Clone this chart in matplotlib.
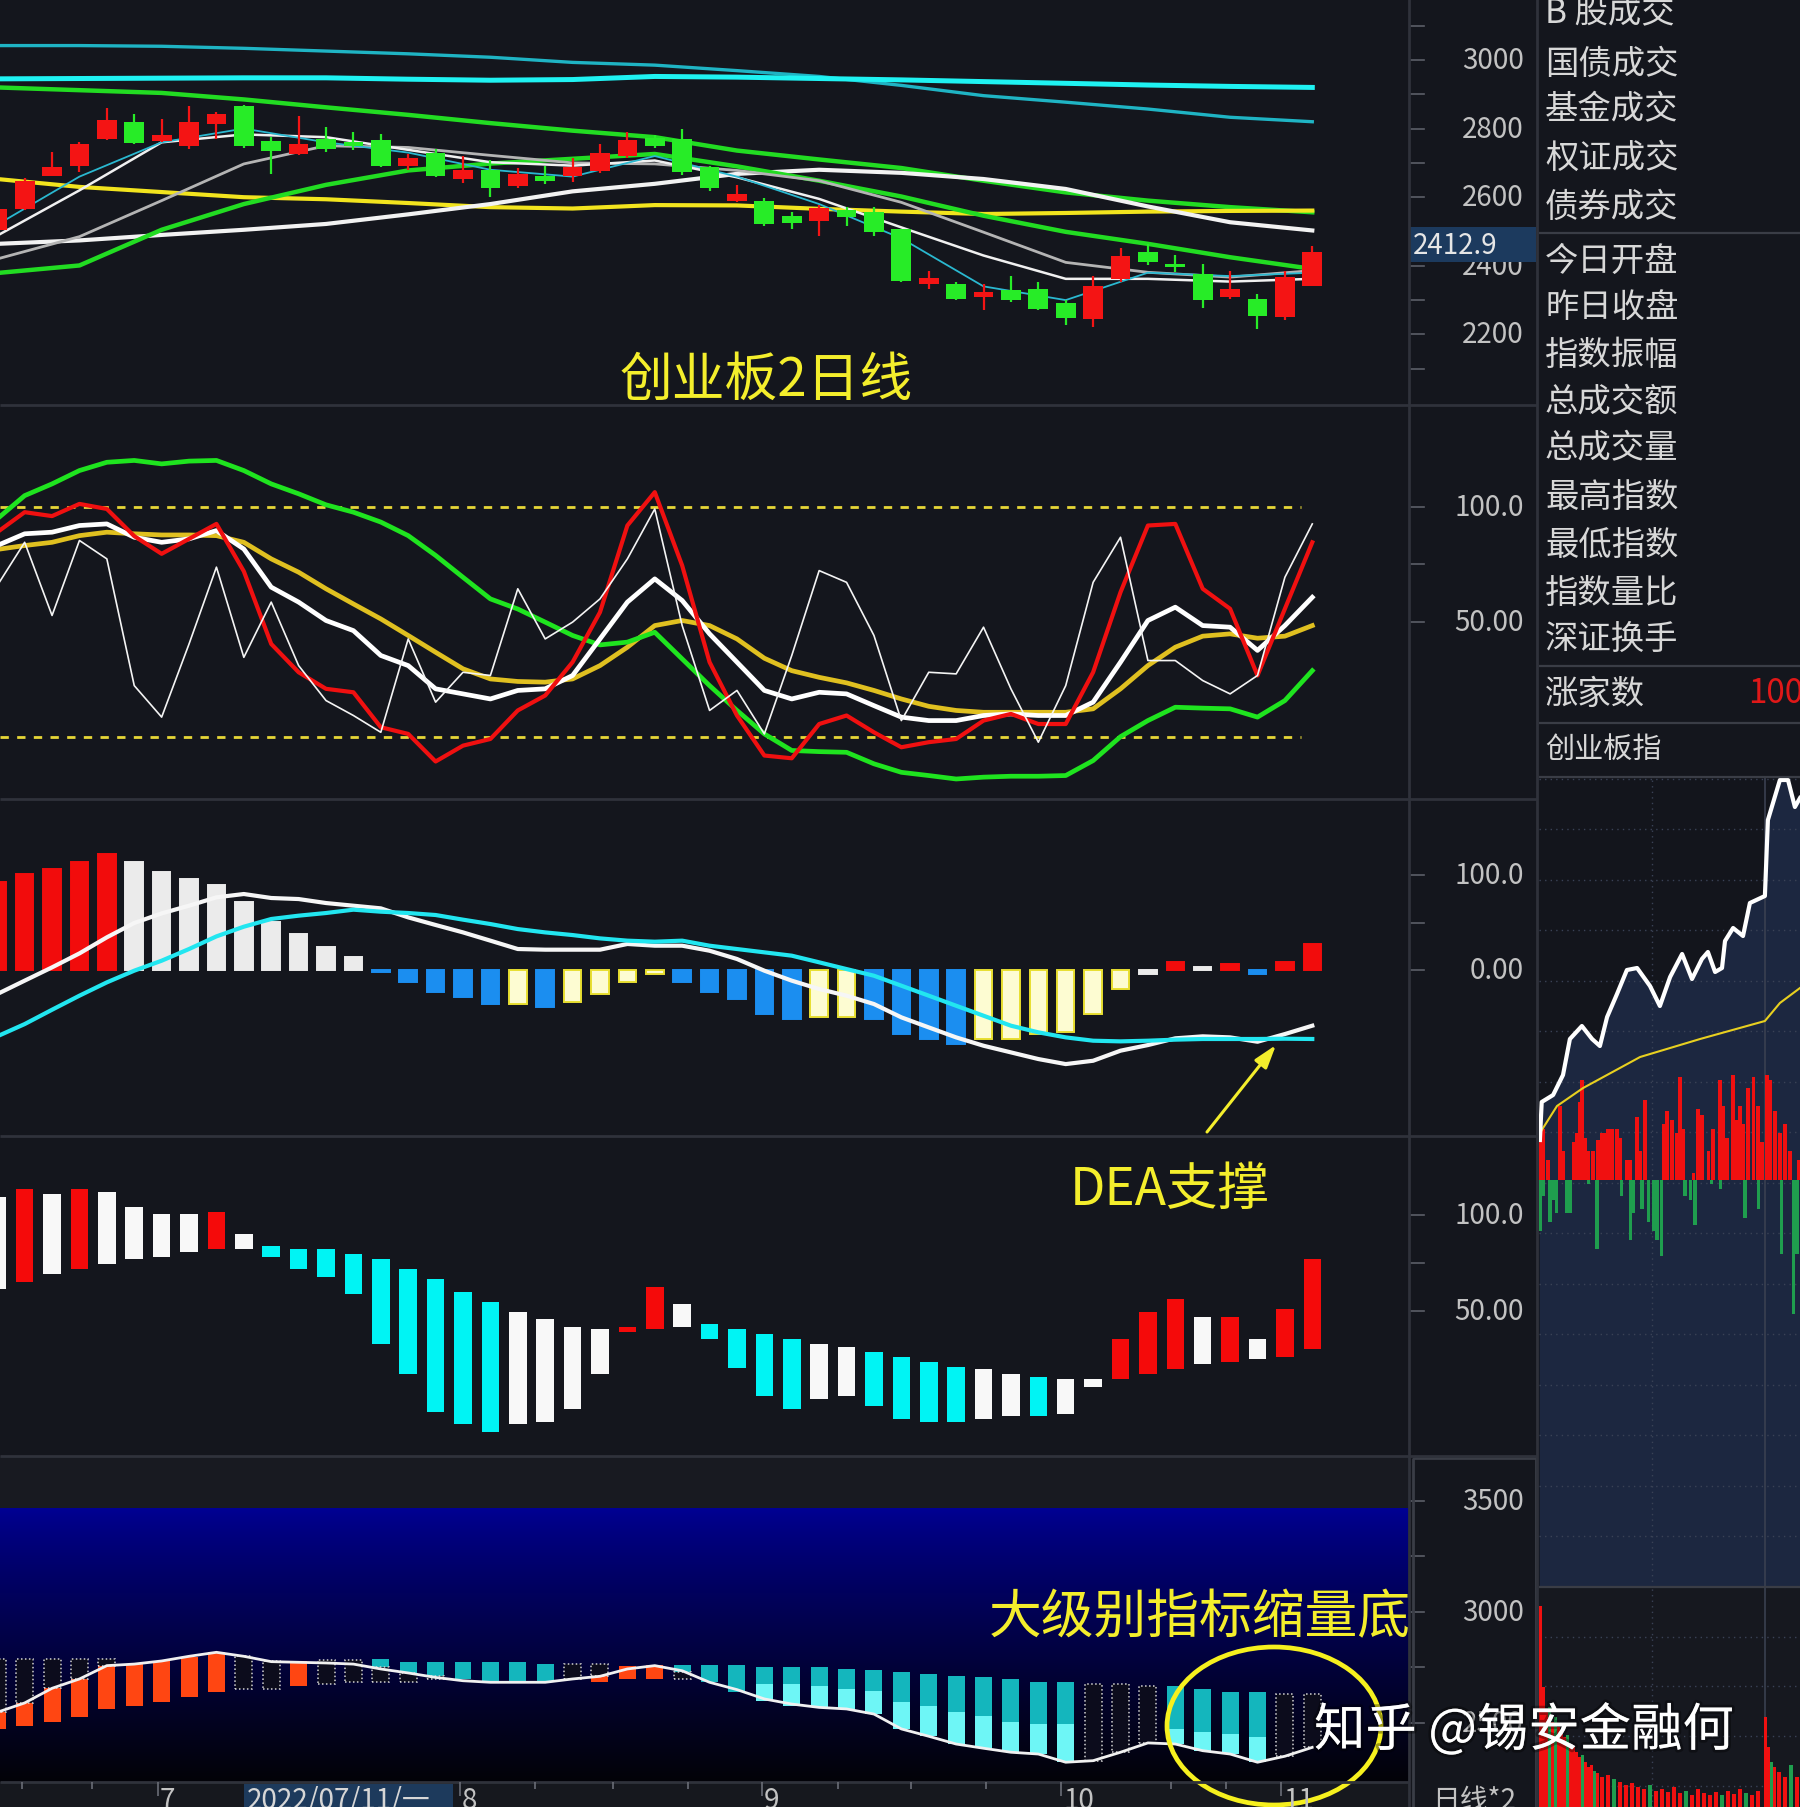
import numpy as np
import matplotlib.pyplot as plt
import matplotlib.transforms as mtransforms
import matplotlib.patheffects as pe
from matplotlib.patches import Rectangle, Ellipse

plt.rcParams['font.family'] = ['Noto Sans CJK SC', 'DejaVu Sans']

# ---------------- data ----------------
# 创业板 2-day candles, 49 bars
c_open = [2503, 2566, 2663, 2692, 2770, 2820, 2765, 2750, 2814, 2865, 2765, 2726, 2770, 2762, 2768, 2692, 2729,
          2653, 2678, 2632, 2661, 2663, 2675, 2721, 2772, 2770, 2687, 2590, 2590, 2544, 2532, 2564, 2558, 2508,
          2347, 2347, 2308, 2328, 2333, 2292, 2245, 2362, 2440, 2405, 2376, 2308, 2304, 2250, 2340]
c_close = [2566, 2648, 2687, 2755, 2826, 2758, 2781, 2820, 2843, 2750, 2736, 2755, 2741, 2750, 2692, 2713, 2663,
           2678, 2626, 2668, 2648, 2687, 2729, 2768, 2750, 2673, 2626, 2610, 2522, 2525, 2568, 2542, 2498, 2357,
           2364, 2304, 2323, 2299, 2274, 2247, 2340, 2430, 2410, 2396, 2299, 2333, 2255, 2367, 2441]
c_high = [2576, 2655, 2733, 2760, 2859, 2843, 2828, 2865, 2849, 2869, 2775, 2838, 2804, 2791, 2784, 2726, 2741,
          2721, 2707, 2684, 2692, 2713, 2755, 2791, 2780, 2799, 2692, 2636, 2597, 2556, 2576, 2571, 2571, 2508,
          2386, 2352, 2347, 2370, 2354, 2299, 2370, 2451, 2464, 2432, 2405, 2386, 2318, 2386, 2457]
c_low = [2498, 2564, 2661, 2673, 2768, 2755, 2760, 2741, 2770, 2743, 2668, 2724, 2733, 2739, 2687, 2678, 2658,
         2642, 2600, 2626, 2639, 2645, 2671, 2713, 2743, 2665, 2619, 2587, 2517, 2508, 2488, 2517, 2488, 2354,
         2333, 2299, 2270, 2294, 2270, 2226, 2221, 2354, 2401, 2381, 2276, 2304, 2216, 2243, 2340]

# moving averages, read every 3rd bar
ma_k = [0, 3, 6, 9, 12, 15, 18, 21, 24, 27, 30, 33, 36, 39, 42, 45, 48]
ma_cyan = [2945, 2946, 2947, 2948, 2948, 2944, 2941, 2943, 2952, 2950, 2946, 2942, 2937, 2932, 2927, 2923, 2920]
ma_teal = [3042, 3042, 3040, 3034, 3026, 3018, 3008, 2993, 2985, 2969, 2952, 2926, 2896, 2877, 2857, 2833, 2820]
ma_green = [2920, 2912, 2904, 2885, 2862, 2840, 2816, 2794, 2775, 2736, 2710, 2685, 2648, 2614, 2590, 2571, 2556]
ma_yellow = [2653, 2630, 2615, 2600, 2594, 2583, 2571, 2567, 2577, 2576, 2566, 2558, 2551, 2554, 2558, 2560, 2561]
ma_white = [2464, 2474, 2490, 2505, 2522, 2550, 2580, 2617, 2639, 2668, 2680, 2671, 2653, 2624, 2573, 2527, 2503]
ma_green2 = [2379, 2401, 2505, 2580, 2636, 2678, 2698, 2712, 2726, 2690, 2648, 2602, 2546, 2499, 2464, 2425, 2391]
ma_thin = [2488, 2620, 2760, 2783, 2775, 2738, 2702, 2692, 2707, 2658, 2595, 2512, 2430, 2362, 2362, 2354, 2362]
ma_grey = [2420, 2485, 2590, 2697, 2750, 2745, 2722, 2700, 2697, 2678, 2648, 2585, 2498, 2410, 2381, 2367, 2386]
ma_short = [2520, 2660, 2760, 2800, 2760, 2730, 2680, 2660, 2720, 2660, 2580, 2480, 2340, 2300, 2380, 2370, 2380]

# oscillator panel
osc_green = [94.8, 104.9, 110.0, 115.8, 119.4, 120.2, 118.7, 119.9, 120.2, 115.8, 110.0, 105.7, 100.9, 97.7, 93.4,
             87.5, 78.9, 69.4, 60.0, 55.6, 49.9, 44.1, 40.0, 41.2, 45.5, 33.9, 22.3, 11.5, 1.3, -5.9, -6.4, -6.7,
             -11.7, -15.4, -16.8, -18.3, -17.5, -17.1, -17.1, -16.8, -10.3, 0.1, 7.1, 12.9, 12.5, 12.2, 8.6, 15.8, 28.8]
osc_red = [89.0, 97.7, 96.0, 101.3, 99.1, 87.3, 79.6, 86.1, 92.6, 72.0, 40.4, 28.1, 20.9, 19.4, 4.2, 1.3, -10.7,
           -3.8, -0.9, 11.5, 18.0, 32.5, 54.2, 91.9, 106.4, 74.5, 32.5, 9.3, -8.1, -9.3, 5.6, 9.3, 2.0, -4.5, -2.3,
           -0.9, 7.1, 10.0, 5.6, 5.6, 28.1, 62.9, 91.9, 92.6, 64.4, 55.7, 26.7, 55.7, 84.6]
osc_white = [83.2, 88.3, 89.0, 91.9, 92.6, 86.8, 84.6, 86.1, 89.7, 81.7, 65.1, 58.6, 50.6, 46.2, 35.4, 31.0, 20.9,
             18.7, 16.5, 20.2, 20.9, 26.7, 42.6, 58.6, 68.7, 59.3, 44.8, 32.5, 20.2, 16.5, 19.4, 18.7, 13.6, 8.6,
             7.1, 7.1, 9.3, 10.0, 9.3, 9.3, 15.1, 32.5, 50.6, 56.4, 48.4, 47.7, 37.6, 48.4, 60.7]
osc_gold = [81.5, 83.2, 84.6, 87.5, 89.0, 88.3, 87.8, 87.8, 87.5, 84.6, 77.4, 71.6, 64.4, 57.8, 51.3, 44.1, 36.8,
            29.6, 25.2, 24.1, 23.8, 25.2, 31.0, 39.0, 48.4, 50.6, 48.4, 42.6, 34.2, 28.8, 25.9, 23.5, 20.2, 16.5,
            13.3, 11.5, 10.7, 10.7, 10.7, 10.7, 12.2, 20.9, 31.0, 39.0, 43.8, 44.8, 42.9, 43.8, 48.4]
osc_thin = [65.8, 84.6, 52.8, 85.4, 77.4, 22.3, 8.6, 40.4, 73.8, 34.6, 58.6, 31.0, 15.8, 9.3, 2.0, 42.6, 15.1, 28.1,
            26.7, 64.4, 42.6, 49.9, 60.0, 77.4, 99.1, 48.4, 11.5, 20.2, 1.3, 35.4, 72.3, 67.2, 44.1, 7.1, 28.1,
            27.4, 47.7, 20.9, -2.3, 22.3, 67.2, 86.8, 33.2, 33.2, 24.5, 18.7, 26.7, 69.4, 92.6]

# MACD panel
macd_hist = [92.3, 101.0, 106.3, 114.0, 122.1, 114.0, 103.5, 95.8, 89.8, 71.9, 50.9, 37.9, 24.5, 14.0, -1.8, -12.3,
             -22.8, -28.1, -35.8, -35.8, -38.6, -33.3, -25.3, -12.3, -4.2, -12.3, -22.8, -30.5, -46.3, -51.6, -49.1,
             -49.1, -51.6, -67.4, -72.6, -77.9, -72.6, -72.6, -67.4, -64.9, -46.3, -20.0, -4.2, 8.8, 3.5, 6.3, -4.2,
             8.8, 27.4]
macd_color = 'rrrrr' + 'wwwwwwwww' + 'bbbbb' + 'y' + 'b' + 'yyyy' + 'bbbbb' + 'yy' + 'bbbb' + 'yyyyyy' + 'wrwrbrr'
macd_dif = [-25.3, -11.2, 2.8, 17.5, 34.4, 49.5, 59.6, 67.7, 76.5, 80.0, 75.8, 74.7, 70.5, 67.7, 64.9, 55.4, 47.4,
            39.6, 30.9, 22.1, 21.4, 21.4, 21.4, 27.4, 25.6, 25.6, 20.3, 11.6, -0.7, -11.2, -20.0, -27.0, -35.8,
            -49.8, -60.4, -70.9, -79.7, -86.7, -93.7, -99.0, -95.5, -84.9, -79.0, -71.9, -69.8, -70.9, -75.5,
            -67.4, -58.6]
macd_dea = [-69.8, -56.9, -41.8, -27.0, -13.0, -0.7, 9.8, 22.1, 35.4, 45.6, 53.7, 57.2, 60.0, 63.5, 61.4, 60.0,
            57.9, 53.0, 48.4, 43.1, 39.6, 36.8, 33.3, 30.9, 29.8, 30.9, 25.6, 22.1, 18.6, 15.1, 8.1, 1.0, -6.0,
            -16.5, -27.0, -37.6, -48.1, -58.6, -65.6, -70.9, -74.4, -75.1, -74.4, -73.3, -72.6, -72.6, -72.6,
            -72.3, -72.6]

# floating bar panel
h4_top = [109.5, 113.9, 111.3, 113.9, 112.5, 104.6, 100.8, 100.8, 102.0, 90.3, 83.9, 82.5, 82.5, 79.9, 77.2, 72.0,
          66.8, 60.1, 54.9, 49.7, 45.8, 41.8, 40.6, 41.8, 62.7, 53.7, 43.2, 40.6, 38.0, 35.4, 32.7, 31.4, 28.7,
          26.1, 23.5, 20.9, 19.7, 17.0, 15.6, 14.4, 14.4, 35.4, 49.7, 56.3, 47.0, 47.0, 35.4, 51.1, 77.2]
h4_bot = [61.5, 65.4, 69.4, 72.0, 74.6, 77.2, 78.5, 81.1, 82.5, 82.5, 78.5, 72.0, 68.0, 58.9, 32.7, 17.0, -2.7,
          -9.1, -13.2, -9.1, -7.9, -1.3, 17.0, 39.2, 40.6, 41.8, 35.4, 20.0, 5.3, -1.3, 3.9, 5.3, 0.1, -6.5, -7.9,
          -7.9, -6.5, -5.1, -5.1, -3.9, 10.4, 14.4, 17.0, 19.7, 22.3, 23.5, 24.9, 26.1, 30.1]
h4_color = 'wrwrwwwwrw' + 'ccccccccc' + 'wwww' + 'rr' + 'w' + 'cccc' + 'ww' + 'cccc' + 'ww' + 'c' + 'ww' + 'rrrwrwrr'

# bottom volume-style indicator
p5_top = [2787, 2787, 2787, 2787, 2787, 2764, 2780, 2794, 2817, 2802, 2780, 2780, 2784, 2784, 2787, 2772, 2772,
          2772, 2772, 2772, 2764, 2764, 2764, 2757, 2760, 2760, 2760, 2760, 2749, 2749, 2749, 2742, 2739, 2730,
          2719, 2712, 2704, 2697, 2685, 2685, 2674, 2674, 2664, 2664, 2652, 2640, 2640, 2629, 2629]
p5_mid = [2547, 2589, 2655, 2697, 2757, 2574, 2592, 2614, 2637, 2652, 2652, 2664, 2674, 2685, 2749, 2724, 2712,
          2697, 2682, 2682, 2682, 2697, 2712, 2697, 2697, 2730, 2682, 2637, 2674, 2674, 2667, 2652, 2644, 2592,
          2577, 2547, 2532, 2502, 2494, 2494, 2329, 2367, 2409, 2472, 2457, 2449, 2434, 2349, 2389]
p5_bot = [2472, 2484, 2505, 2527, 2562, 2574, 2592, 2614, 2637, 2652, 2652, 2664, 2674, 2685, 2685, 2682, 2697,
          2697, 2682, 2682, 2682, 2697, 2682, 2697, 2697, 2697, 2682, 2637, 2599, 2577, 2569, 2562, 2539, 2472,
          2439, 2404, 2385, 2367, 2359, 2322, 2329, 2367, 2409, 2404, 2374, 2359, 2322, 2349, 2389]
p5_up = 'ddddd' + 'oooo' + 'dd' + 'o' + 'dd' + 'tttttt' + 't' + 'dd' + 'oo' + 'ttt' + 't' * 12 + 'ddd' + 'tttt' + 'dd'
p5_lo = 'ooooo' + '-' * 9 + 'ddd' + '-----' + 'o' + '--' + 'd' + '--' + 'c' * 12 + '---' + 'cccc' + '--'
p5_line = [2547, 2589, 2655, 2697, 2757, 2764, 2778, 2799, 2817, 2799, 2775, 2772, 2769, 2764, 2742, 2724, 2704,
           2689, 2682, 2682, 2682, 2697, 2709, 2742, 2757, 2734, 2682, 2649, 2607, 2584, 2569, 2562, 2539, 2472,
           2439, 2404, 2385, 2367, 2359, 2322, 2329, 2367, 2409, 2404, 2374, 2359, 2322, 2349, 2389]

# sidebar intraday mini chart (minutes, height above volume baseline)
mini_t = [0.3, 0.9, 4.7, 8.0, 10.3, 14.3, 17.7, 20.3, 22.7, 26.0, 29.3, 32.7, 37.0, 40.3, 43.7, 47.7, 51.0, 54.3,
          56.3, 58.7, 61.0, 62.0, 64.7, 68.0, 70.3, 75.3, 76.3, 80.3, 83.0, 85.3, 87.0]
mini_px = [40, 78, 85, 105, 141, 154, 141, 134, 163, 186, 210, 212, 194, 174, 203, 226, 201, 221, 228, 208, 212,
           239, 252, 244, 277, 284, 360, 400, 400, 373, 382]
mini_avg_t = [0.3, 6.0, 14.7, 33.7, 53.7, 75.3, 80.3, 87.0]
mini_avg = [47, 74, 92, 123, 141, 159, 177, 192]
mini_red_t = [0.4, 1.5, 3.1, 7.0, 8.1, 11.5, 12.6, 13.7, 14.3, 15.4, 16.5, 18.1, 19.8, 20.9, 22.0, 23.1, 24.3,
              25.9, 27.0, 29.3, 30.4, 32.6, 33.7, 35.4, 41.5, 42.6, 44.3, 45.9, 47.0, 48.1, 51.5, 53.1, 54.3, 56.5,
              58.1, 60.4, 61.5, 62.6, 64.8, 65.9, 67.0, 68.1, 69.8, 71.5, 73.1, 74.3, 75.9, 77.0, 78.7, 80.4, 82.0,
              83.7, 86.5]
mini_red_h = [58, 51, 20, 74, 29, 38, 47, 78, 100, 42, 29, 29, 40, 47, 47, 51, 51, 51, 42, 20, 20, 63, 29, 80, 56,
              69, 60, 47, 103, 51, 7, 71, 65, 29, 51, 100, 74, 42, 105, 60, 74, 56, 92, 103, 74, 38, 105, 100, 69,
              47, 56, 29, 20]
mini_grn_t = [0.4, 1.5, 3.7, 4.8, 5.9, 9.3, 10.4, 16.5, 19.3, 27.6, 30.4, 31.5, 34.3, 36.5, 38.1, 39.3, 40.9,
              48.7, 50.4, 52.0, 57.6, 60.4, 68.7, 73.1, 80.9, 84.8, 86.0]
mini_grn_h = [51, 16, 42, 20, 33, 33, 33, 4, 69, 16, 60, 33, 29, 42, 51, 60, 76, 16, 20, 45, 4, 9, 38, 29, 74,
              134, 74]
low_t = [0.5, 1.5, 2.5, 3.5, 4.5, 5.5, 6.5, 7.5, 8.5, 9.5, 10.5, 11.5, 12.5, 13.5, 14.5, 15.5, 16.5, 17.5, 18.5,
         19.5, 21, 23, 25, 27, 29, 31, 33, 35, 37, 39, 41, 43, 45, 47, 49, 51, 53, 55, 57, 59, 61, 63, 65, 67, 69,
         71, 73, 75.5, 76.5, 77.5, 78.5, 80, 82, 84, 86]
low_h = [201, 120, 95, 100, 85, 90, 80, 75, 70, 72, 62, 60, 55, 50, 52, 45, 40, 42, 36, 34, 30, 32, 28, 25, 22,
         24, 20, 18, 22, 16, 18, 15, 20, 14, 16, 12, 18, 14, 12, 15, 12, 16, 13, 18, 14, 12, 16, 90, 60, 45, 40,
         35, 30, 42, 30]
low_green_idx = [3, 5, 9, 14, 18, 22, 28, 34, 40, 44, 49, 53]

# axis / sidebar text
p1_labels = [(3200, '3200'), (3000, '3000'), (2800, '2800'), (2600, '2600'), (2400, '2400'), (2200, '2200')]
p2_labels = [(100, '100.0'), (50, '50.00')]
p3_labels = [(100, '100.0'), (0, '0.00')]
p4_labels = [(100, '100.0'), (50, '50.00')]
p5_labels = [(3500, '3500'), (3000, '3000'), (2500, '2500')]
side_labels = ['B 股成交', '国债成交', '基金成交', '权证成交', '债券成交', '今日开盘', '昨日收盘', '指数振幅',
               '总成交额', '总成交量', '最高指数', '最低指数', '指数量比', '深证换手', '涨家数', '创业板指']
month_labels = ['7', '8', '9', '10', '11']

# ---------------- drawing ----------------
W, H = 1800, 1808
BG = '#14161d'
GRID = '#2f323b'
LABEL = '#c2c2c2'
YEL = '#f4ee2c'
RED = '#f41414'
GRN = '#27ec27'
XL = (0.10, 51.53)

days = np.arange(len(c_open))
c_open, c_close = np.array(c_open), np.array(c_close)

fig = plt.figure(figsize=(W / 100, H / 100), dpi=100, facecolor=BG)


def add_ax(x0, y0, x1, y1, fc=BG):
    ax = fig.add_axes([x0 / W, 1 - y1 / H, (x1 - x0) / W, (y1 - y0) / H], facecolor=fc)
    ax.set_xticks([])
    ax.set_yticks([])
    for s in ax.spines.values():
        s.set_visible(False)
    return ax


def panel(y0, y1, ylim, fc=BG):
    ax = add_ax(0, y0, 1409, y1, fc)
    ax.set_xlim(*XL)
    ax.set_ylim(*ylim)
    return ax


def yaxis(ax, labels, ticks):
    tr = mtransforms.blended_transform_factory(ax.transAxes, ax.transData)
    for v, s in labels:
        ax.text(1524 / 1409, v, s, transform=tr, ha='right', va='center', color=LABEL,
                fontsize=20, clip_on=False, zorder=1)
    for v in ticks:
        ax.plot([1410 / 1409, 1424 / 1409], [v, v], transform=tr, color='#5c5f68', lw=1.2, clip_on=False)


# panel 1: candles + MAs
ax1 = panel(0, 406, (1994.2, 3177.8))
ax1.plot(ma_k, ma_teal, color='#1fb4c4', lw=2.4, zorder=2)
ax1.plot(ma_k, ma_cyan, color='#1ff2f2', lw=3.6, zorder=2)
ax1.plot(ma_k, ma_green, color='#22dc22', lw=3.2, zorder=2)
ax1.plot(ma_k, ma_yellow, color='#f2e41e', lw=3.0, zorder=2)
ax1.plot(ma_k, ma_white, color='#f2f2f2', lw=3.0, zorder=2)
ax1.plot(ma_k, ma_green2, color='#22dc22', lw=3.2, zorder=2)
ax1.plot(ma_k, ma_grey, color='#b4b4b4', lw=2.0, zorder=3)
ax1.plot(ma_k, ma_thin, color='#f0f0f0', lw=1.8, zorder=3)
ax1.plot(ma_k, ma_short, color='#2ab8d0', lw=1.3, zorder=3)
ccol = np.where(c_close >= c_open, RED, GRN)
ax1.vlines(days, c_low, c_high, colors=ccol, lw=1.6, zorder=4)
body_lo = np.minimum(c_open, c_close)
body_h = np.maximum(np.abs(c_close - c_open), 3)
ax1.bar(days, body_h, bottom=body_lo, width=0.72, color=ccol, zorder=5)
yaxis(ax1, p1_labels, range(2100, 3300, 100))

# panel 2: oscillator
ax2 = panel(406, 800, (-27.0, 144.3))
ax2.hlines([100, 0], XL[0], 47.6, colors='#e6d637', linestyles=(0, (3, 3)), lw=2, zorder=1)
ax2.plot(days, osc_gold, color='#e0c020', lw=3.4, zorder=2)
ax2.plot(days, osc_green, color='#1fe41f', lw=3.4, zorder=3)
ax2.plot(days, osc_white, color='#ffffff', lw=3.4, zorder=4)
ax2.plot(days, osc_red, color='#f01010', lw=3.0, zorder=5)
ax2.plot(days, osc_thin, color='#f4f4f4', lw=1.2, zorder=6)
yaxis(ax2, p2_labels, [100, 75, 50])

# panel 3: MACD
ax3 = panel(800, 1137, (-174.7, 180.0))
mfill = {'r': '#f20c0c', 'w': '#ebebeb', 'b': '#1b8ef0', 'y': '#fdfcd2'}
medge = {'r': '#f20c0c', 'w': '#ebebeb', 'b': '#1b8ef0', 'y': '#e8df30'}
ax3.bar(days, macd_hist, width=0.64, color=[mfill[c] for c in macd_color],
        edgecolor=[medge[c] for c in macd_color], lw=1.4, zorder=2)
ax3.plot(days, macd_dif, color='#f6f6f6', lw=3.0, zorder=3)
ax3.plot(days, macd_dea, color='#22e6f0', lw=3.0, zorder=4)
yaxis(ax3, p3_labels, [100, 50, 0])

# panel 4: floating bars
ax4 = panel(1137, 1457, (-25.9, 141.6))
hcol = {'r': '#f50a0a', 'w': '#f8f8f8', 'c': '#00f4f4'}
ax4.bar(days, np.array(h4_top) - np.array(h4_bot), bottom=h4_bot, width=0.64,
        color=[hcol[c] for c in h4_color], zorder=2)
yaxis(ax4, p4_labels, [100, 75, 50])

# panel 5: gradient background + stacked bars
ax5 = panel(1457, 1783, (2233, 3701), fc='#181a21')
t = np.linspace(0, 1, 256) ** 0.8
top_c, bot_c = np.array([0.0, 0.0, 0.58]), np.array([0.01, 0.01, 0.03])
grad = top_c[None, None, :] * (1 - t)[:, None, None] + bot_c[None, None, :] * t[:, None, None]
ax5.imshow(grad, extent=(XL[0], XL[1], 2233, 3462.6), aspect='auto', origin='upper', zorder=0)
ax5.set_xlim(*XL)
ax5.set_ylim(2233, 3701)
seg_style = {
    'o': dict(color='#ff4612'),
    't': dict(color='#14b6bd'),
    'c': dict(color='#6ef6f6'),
    'd': dict(color='#0c0c1c', edgecolor='#d2d2d2', linewidth=1.1, linestyle=(0, (1, 1.6))),
}
p5_top, p5_mid, p5_bot = np.array(p5_top), np.array(p5_mid), np.array(p5_bot)
for st in 'otcd':
    m = np.array([c == st for c in p5_up])
    if m.any():
        ax5.bar(days[m], (p5_top - p5_mid)[m], bottom=p5_mid[m], width=0.62, zorder=2, **seg_style[st])
    m = np.array([c == st for c in p5_lo])
    if m.any():
        ax5.bar(days[m], (p5_mid - p5_bot)[m], bottom=p5_bot[m], width=0.62, zorder=2, **seg_style[st])
ax5.plot(days, p5_line, color='#f0f0f0', lw=2.0, zorder=3)
yaxis(ax5, p5_labels, [3500, 3250, 3000, 2750, 2500])

# sidebar mini chart
axm = add_ax(1539, 778, 1800, 1588, fc='#13151c')
axm.set_xlim(0, 87)
axm.set_ylim(-407, 403)
axm.fill_between(mini_t, mini_px, -407, color='#1c2740', zorder=0)
for gy in np.arange(-356, 403, 50.5):
    axm.axhline(gy, color='#3a4256', lw=1, linestyle=(0, (1, 3)), zorder=1)
axm.axvline(37.7, color='#3a4256', lw=1, linestyle=(0, (1, 3)), zorder=1)
axm.axvline(75.3, color='#3a4050', lw=1.2, zorder=1)
axm.bar(mini_red_t, mini_red_h, width=1.3, color='#f01010', zorder=2)
axm.bar(mini_grn_t, -np.array(mini_grn_h), width=1.1, color='#1f9e4e', zorder=2)
axm.plot(mini_avg_t, mini_avg, color='#e8d020', lw=1.5, zorder=3)
axm.plot(mini_t, mini_px, color='#ffffff', lw=3.0, zorder=4)

axl = add_ax(1539, 1588, 1800, 1808, fc='#16181f')
axl.set_xlim(0, 87)
axl.set_ylim(0, 220)
for gy in [21, 71, 121, 170]:
    axl.axhline(gy, color='#3a4256', lw=1, linestyle=(0, (1, 3)), zorder=1)
axl.axvline(37.7, color='#3a4256', lw=1, linestyle=(0, (1, 3)), zorder=1)
axl.axvline(75.3, color='#3a4050', lw=1.2, zorder=1)
low_col = ['#1f9e4e' if i in low_green_idx else '#f01010' for i in range(len(low_t))]
axl.bar(low_t, low_h, width=1.1, color=low_col, zorder=2)

# ---------------- overlay: frames, text, annotations ----------------
ov = fig.add_axes([0, 0, 1, 1], zorder=10)
ov.set_xlim(0, W)
ov.set_ylim(H, 0)
ov.axis('off')

ov.hlines([406, 800, 1137, 1457], 0, 1537, colors=GRID, lw=2)
ov.vlines([1409, 1537], 0, H, colors=GRID, lw=2)
ov.hlines([234, 667, 724, 778, 1588], 1539, W, colors='#3a3d46', lw=1.6)
ov.add_patch(Rectangle((1413, 1459), 123, 360, fill=False, ec='#3a3d46', lw=2))
ov.add_patch(Rectangle((0, 1783), 1409, 25, fc='#16181e', ec='none'))
ov.hlines(1783, 0, 1409, colors=GRID, lw=2)

# price tag on the right axis
ov.add_patch(Rectangle((1409, 228), 127, 35, fc='#1c3a5e', ec='none'))
ov.text(1413, 246, '2412.9', color='#e6e6e6', fontsize=20, va='center', ha='left')

# bottom date strip
month_x = [160, 462, 764, 1063, 1283]
for xm in month_x:
    ov.vlines(xm - 2, 1783, 1797, colors='#6a6d76', lw=1.2)
for xm in [22, 92, 535, 613, 688, 838, 911, 986, 1171, 1226]:
    ov.vlines(xm, 1783, 1790, colors='#6a6d76', lw=1.2)
for xm, s in zip(month_x, month_labels):
    ov.text(xm, 1786, s, color=LABEL, fontsize=20, va='top', ha='left')
ov.add_patch(Rectangle((244, 1785), 209, 25, fc='#1d3a5c', ec='none'))
ov.text(247, 1786, '2022/07/11/一', color='#d6d6d6', fontsize=20, va='top', ha='left')
ov.text(1432, 1786, '日线*2', color=LABEL, fontsize=20, va='top', ha='left')

# sidebar labels
side_y = [14, 64, 110, 158, 207, 261, 308, 355, 403, 449, 497, 545, 593, 639, 694, 750]
for yy, s in zip(side_y, side_labels):
    ov.text(1545, yy, s, color='#d8d8d8', fontsize=21 if s == '创业板指' else 24, va='center', ha='left')
ov.text(1748, 694, '100', color='#e01818', fontsize=24, va='center', ha='left')

# annotations
ov.text(620, 380, '创业板2日线', color=YEL, fontsize=38, va='center', ha='left')
ov.text(1070, 1190, 'DEA支撑', color=YEL, fontsize=37, va='center', ha='left')
ov.text(989, 1618, '大级别指标缩量底', color=YEL, fontsize=38, va='center', ha='left')
ov.annotate('', xy=(1276, 1046), xytext=(1207, 1133),
            arrowprops=dict(arrowstyle='-|>,head_length=1.4,head_width=0.45', color=YEL, lw=2.2,
                            shrinkA=0, shrinkB=0))
ov.add_patch(Ellipse((1274, 1727), 214, 158, fill=False, ec='#f6f01e', lw=3.4))
ov.text(1314, 1732, '知乎 @锡安金融何', color='#ffffff', fontsize=37, va='center', ha='left',
        path_effects=[pe.withStroke(linewidth=4, foreground=(0, 0, 0, 0.35))])

fig.savefig('out.png', dpi=100, facecolor=BG)
